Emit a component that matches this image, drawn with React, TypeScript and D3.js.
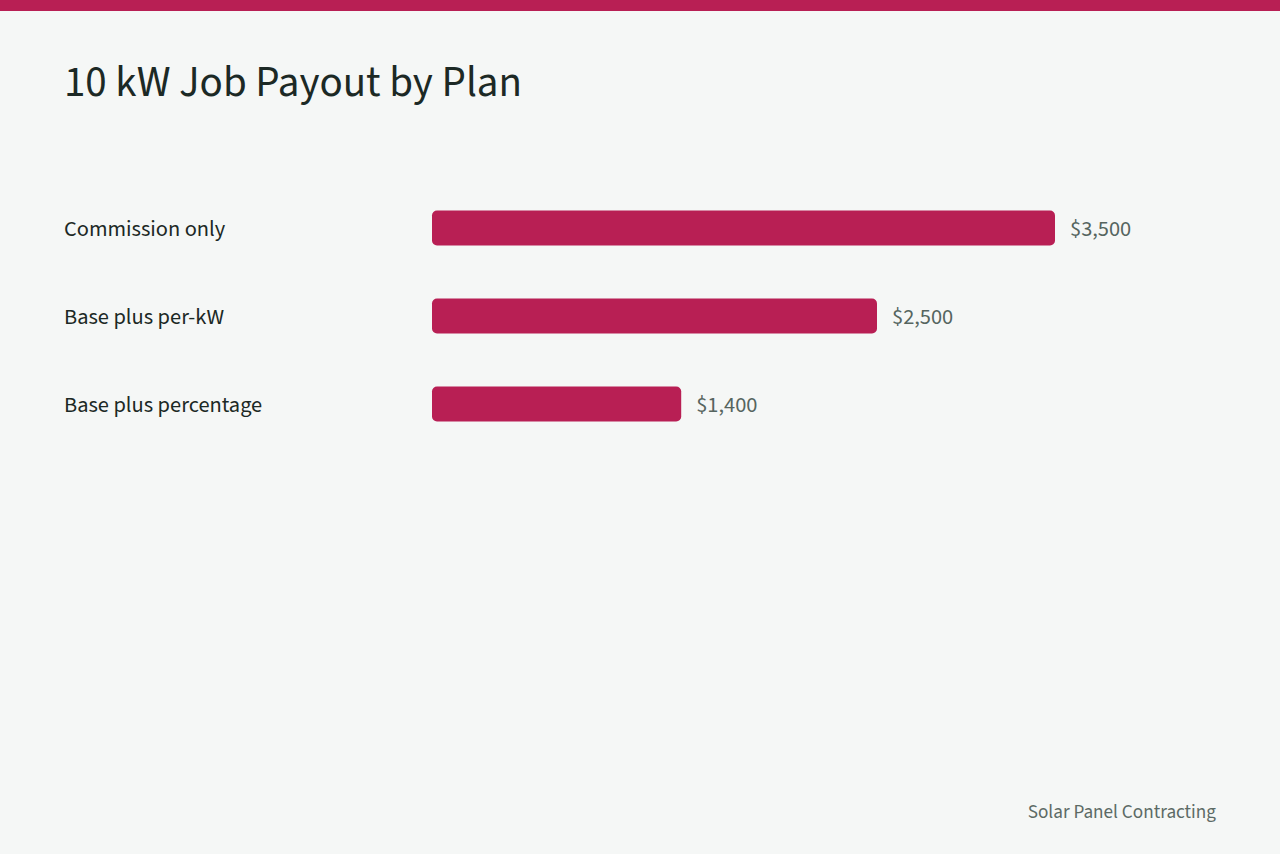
import React from "react";
import * as d3 from "d3";

const categories = ["Commission only", "Base plus per-kW", "Base plus percentage"];
const payouts = [3500, 2500, 1400];
const title = "10 kW Job Payout by Plan";
const footer = "Solar Panel Contracting";

const W = 1280;
const H = 854;
const FONT = "'Source Sans Pro', 'Source Sans 3', Lato, 'Noto Sans', sans-serif";
const BAR = "#b81f54";

export default function App() {
  const x = d3.scaleLinear().domain([0, 3500]).range([432, 1055]);
  const y = d3.scaleBand<string>().domain(categories).range([184, 448]).paddingInner(0.6).paddingOuter(0.3);
  const fmt = d3.format("$,");
  return (
    <svg width={W} height={H} style={{ position: "absolute", left: 0, top: 0, display: "block" }} fontFamily={FONT}>
      <rect x={0} y={0} width={W} height={H} fill="#f5f7f6" />
      <rect x={0} y={0} width={W} height={11} fill={BAR} />
      <text x={64} y={96} fontSize={43} fill="#1c2925">{title}</text>
      {categories.map((c, i) => {
        const yc = (y(c) as number) + y.bandwidth() / 2;
        return (
          <g key={c}>
            <text x={64} y={yc + 0.5} dy="0.35em" fontSize={22.4} fill="#1c2925">{c}</text>
            <rect x={x(0)} y={yc - 17.5} width={x(payouts[i]) - x(0)} height={35} rx={5} fill={BAR} />
            <text x={x(payouts[i]) + 15} y={yc + 0.5} dy="0.35em" fontSize={22.4} fill="#56655f">{fmt(payouts[i])}</text>
          </g>
        );
      })}
      <text x={1216} y={818} textAnchor="end" fontSize={19.2} fill="#5c6a65">{footer}</text>
    </svg>
  );
}
